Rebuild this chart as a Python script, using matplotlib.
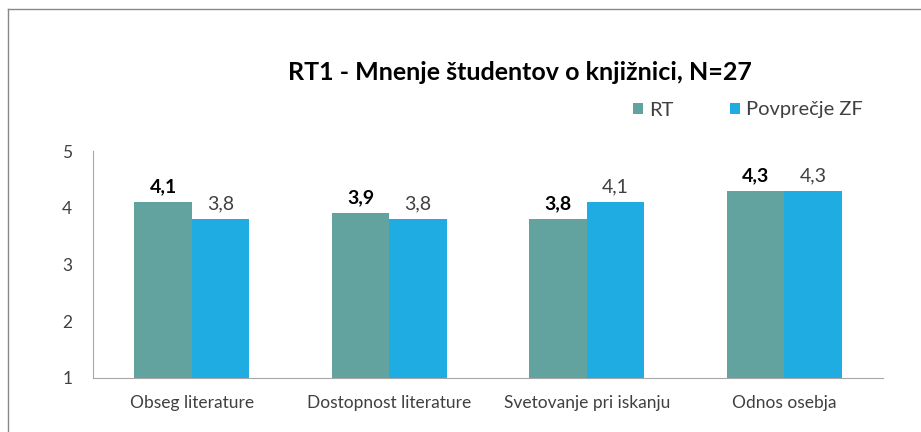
import numpy as np
import matplotlib.pyplot as plt

kategorije = ['Obseg literature', 'Dostopnost literature', 'Svetovanje pri iskanju', 'Odnos osebja']
rt = [4.1, 3.9, 3.8, 4.3]
zf = [3.8, 3.8, 4.1, 4.3]
oznake_rt = ['4,1', '3,9', '3,8', '4,3']
oznake_zf = ['3,8', '3,8', '4,1', '4,3']

plt.rcParams['font.family'] = ['Lato', 'DejaVu Sans']
barva_rt = '#63A39F'
barva_zf = '#1FACE3'
siva = '#404040'

fig = plt.figure(figsize=(9.21, 4.32), dpi=100)
# okvir grafa (zgornji in levi rob)
fig.add_artist(plt.Line2D([8 / 921, 8 / 921], [0, 1 - 9 / 432], color='#888888', lw=1))
fig.add_artist(plt.Line2D([8 / 921, 1], [1 - 9 / 432, 1 - 9 / 432], color='#888888', lw=1))

ax = fig.add_axes([93 / 921, 1 - 378 / 432, (883 - 93) / 921, (378 - 151) / 432])
x = np.arange(len(kategorije))
w = 0.29
b1 = ax.bar(x - w / 2, np.array(rt) - 1, w, bottom=1, color=barva_rt, label='RT')
b2 = ax.bar(x + w / 2, np.array(zf) - 1, w, bottom=1, color=barva_zf, label='Povprečje ZF')

for i in range(len(x)):
    ax.text(x[i] - w / 2, rt[i] + 0.12, oznake_rt[i], ha='center', va='bottom',
            fontsize=14, fontweight='bold', color='black')
    ax.text(x[i] + w / 2, zf[i] + 0.12, oznake_zf[i], ha='center', va='bottom',
            fontsize=14, color=siva)

ax.set_xlim(-0.5, 3.5)
ax.set_ylim(1, 5)
ax.set_yticks([1, 2, 3, 4, 5])
ax.set_xticks(x)
ax.set_xticklabels(kategorije)
ax.tick_params(axis='both', length=0, labelsize=12.5, colors=siva)
ax.tick_params(axis='y', pad=15)
ax.tick_params(axis='x', pad=12)
for s in ['top', 'right']:
    ax.spines[s].set_visible(False)
for s in ['left', 'bottom']:
    ax.spines[s].set_color('#A6A6A6')

fig.text(520 / 921, 1 - 72 / 432, 'RT1 - Mnenje študentov o knjižnici, N=27', ha='center', va='center',
         fontsize=18, fontweight='bold', color='black')
fig.legend(handles=[b1, b2], loc='center', bbox_to_anchor=(748 / 921, 1 - 110 / 432), ncol=2,
           frameon=False, fontsize=14.5, handlelength=0.5, handleheight=0.5, columnspacing=2.8,
           handletextpad=0.3, labelcolor=siva)

fig.savefig('out.png', dpi=100)
